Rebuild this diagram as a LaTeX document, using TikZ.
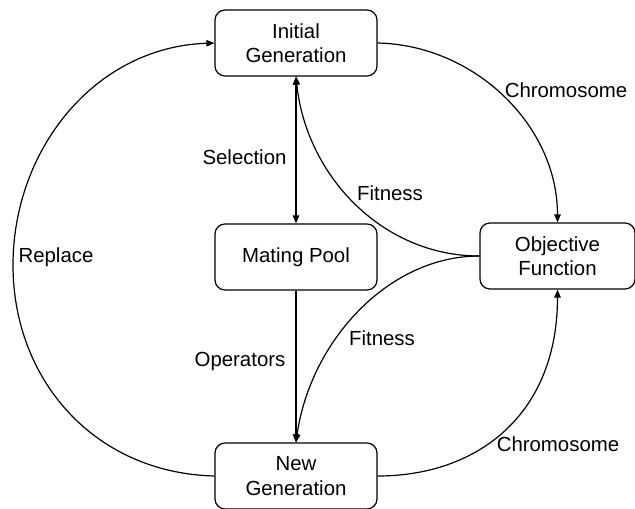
\documentclass[tikz,border=0pt]{standalone}
\usepackage{fontspec}
\setmainfont{Liberation Sans}
\usetikzlibrary{arrows.meta}
\begin{document}
\begin{tikzpicture}[x=1pt,y=-1pt,line width=1.2pt,
	>={Triangle[length=8pt,width=6.5pt]},
	box/.style={draw,rounded corners=10pt,inner sep=0pt,minimum width=162pt,minimum height=66pt,align=center,font=\fontsize{20.4}{24.5}\selectfont},
	lbl/.style={inner sep=0pt,font=\fontsize{20.4}{24.5}\selectfont}]
	\useasboundingbox (0,0) rectangle (635,509);
	\node[box] (IG) at (296,43) {Initial\\Generation};
	\node[box] (MP) at (296,257) {Mating Pool};
	\node[box] (NG) at (296,476) {New\\Generation};
	\node[box,minimum width=155pt] (OF) at (557.5,256) {Objective\\Function};
	\coordinate (RL) at (13,265);% leftmost point of the replace arc
	\draw[<->] (IG.south) -- (MP.north);% Selection
	\draw[->] (MP.south) -- (NG.north);% Operators
	\draw[->] (OF.west) .. controls +(-98,0) and +(10,98) .. (IG.south);% Fitness up
	\draw[->] (OF.west) .. controls +(-92,0) and +(14,-100) .. (NG.north);% Fitness down
	\draw[->] (IG.east) .. controls +(97,2) and +(0,-97) .. (OF.north);% Chromosome up
	\draw[->] (NG.east) .. controls +(100,0) and +(0,125) .. (OF.south);% Chromosome down
	\draw[->] (NG.west) .. controls +(-120,-3) and +(0,115) .. (RL) .. controls +(0,-115) and +(-120,4) .. (IG.west);% Replace
	\node[lbl] (selL) at (244.5,157) {Selection};
	\node[lbl] (opL) at (240,361) {Operators};
	\node[lbl] (fitA) at (390,193) {Fitness};
	\node[lbl] (fitB) at (382,338) {Fitness};
	\node[lbl] (chrA) at (566,90) {Chromosome};
	\node[lbl] (chrB) at (558,444) {Chromosome};
	\node[lbl] (repL) at (56,257) {Replace};
\end{tikzpicture}
\end{document}
